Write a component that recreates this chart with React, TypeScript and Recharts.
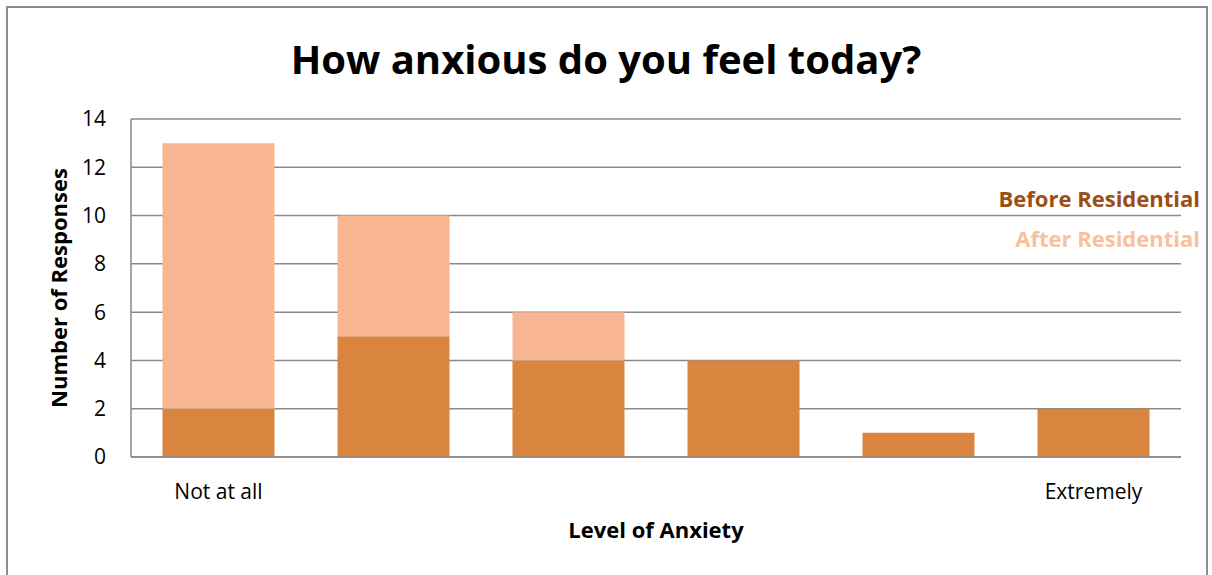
import React from "react";
import { BarChart, Bar, XAxis, YAxis, CartesianGrid, Label } from "recharts";

const categories = ["1", "2", "3", "4", "5", "6"];
const tickLabels = ["Not at all", "", "", "", "", "Extremely"];
const beforeValues = [2, 5, 4, 4, 1, 2];
const afterValues = [11, 5, 2, 0, 0, 0];
const yTicks = [0, 2, 4, 6, 8, 10, 12, 14];

const seriesNames = { before: "Before Residential", after: "After Residential" };
const colors = {
  before: "#D9843F",
  after: "#F8B592",
  beforeText: "#9A4E16",
  afterText: "#FAC09C",
};

const data = categories.map((c, i) => ({
  cat: c,
  before: beforeValues[i],
  after: afterValues[i],
}));

const FONT = "'Open Sans', Lato, sans-serif";

export default function App() {
  return (
    <div style={{ position: "absolute", left: 0, top: 0, width: 1212, height: 575, background: "#fff", overflow: "hidden" }}>
      <div
        style={{
          position: "absolute",
          left: 6,
          top: 6,
          width: 1202,
          height: 600,
          border: "2px solid #8C8C8C",
          boxSizing: "border-box",
        }}
      />
      <div
        style={{
          position: "absolute",
          left: 0,
          width: 1212,
          top: 31,
          textAlign: "center",
          fontFamily: FONT,
          fontWeight: 700,
          fontSize: 40,
          color: "#000",
          lineHeight: "56px",
        }}
      >
        How anxious do you feel today?
      </div>
      <div style={{ position: "absolute", left: 0, top: 0 }}>
        <BarChart
          width={1212}
          height={575}
          data={data}
          margin={{ top: 119, right: 31, bottom: 0, left: 0 }}
          barCategoryGap="18%"
        >
          <CartesianGrid vertical={false} stroke="#8A8A8A" strokeWidth={1.5} />
          <XAxis
            dataKey="cat"
            tickLine={false}
            axisLine={{ stroke: "#8A8A8A", strokeWidth: 1.5 }}
            tickSize={0}
            tickMargin={27}
            interval={0}
            tick={{ fill: "#000", fontSize: 21, fontFamily: FONT }}
            tickFormatter={(v: string, i: number) => tickLabels[i]}
            height={118}
          >
            <Label
              value="Level of Anxiety"
              position="insideTop"
              offset={65}
              style={{ fontFamily: FONT, fontWeight: 700, fontSize: 22, fill: "#000" }}
            />
          </XAxis>
          <YAxis
            domain={[0, 14]}
            ticks={yTicks}
            interval={0}
            width={131}
            tickLine={false}
            tickSize={0}
            tickMargin={25}
            axisLine={{ stroke: "#8A8A8A", strokeWidth: 1.5 }}
            tick={{ fill: "#000", fontSize: 21, fontFamily: FONT }}
          >
            <Label
              value="Number of Responses"
              angle={-90}
              position="insideLeft"
              offset={59}
              style={{ textAnchor: "middle", fontFamily: FONT, fontWeight: 700, fontSize: 22, fill: "#000" }}
            />
          </YAxis>
          <Bar dataKey="before" name={seriesNames.before} stackId="s" fill={colors.before} isAnimationActive={false} />
          <Bar dataKey="after" name={seriesNames.after} stackId="s" fill={colors.after} isAnimationActive={false} />
        </BarChart>
      </div>
      <div
        style={{
          position: "absolute",
          right: 12,
          top: 178,
          width: 260,
          fontFamily: FONT,
          fontWeight: 700,
          fontSize: 22,
          textAlign: "right",
          lineHeight: "40px",
        }}
      >
        <div style={{ color: colors.beforeText }}>{seriesNames.before}</div>
        <div style={{ color: colors.afterText }}>{seriesNames.after}</div>
      </div>
    </div>
  );
}
